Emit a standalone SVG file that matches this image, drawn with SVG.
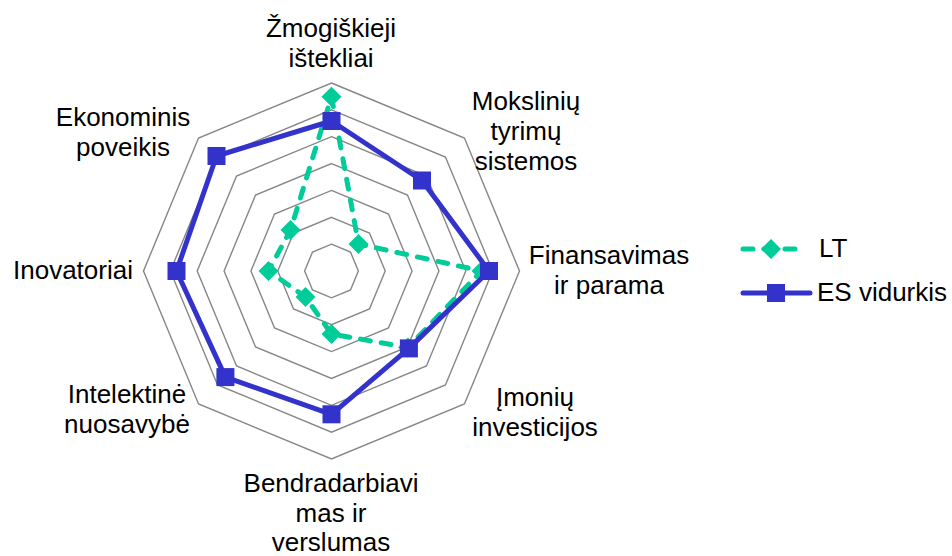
<svg xmlns="http://www.w3.org/2000/svg" width="952" height="556" viewBox="0 0 952 556">
<style>
.grid{fill:none;stroke:#868686;stroke-width:1.4}
.lbl{font-family:"Liberation Sans",Arial,sans-serif;font-size:26px;fill:#000;text-anchor:middle}
.leg{font-family:"Liberation Sans",Arial,sans-serif;font-size:26px;fill:#000}
.lt{fill:none;stroke:#00CC99;stroke-width:5;stroke-dasharray:10 11;stroke-linecap:round;stroke-linejoin:round}
.es{fill:none;stroke:#3333CC;stroke-width:5;stroke-linejoin:round}
.ltm{fill:#00CC99}
.esm{fill:#3333CC}
</style>
<defs>
<path id="dm" d="M0,-10 L10,0 L0,10 L-10,0Z"/>
<rect id="sq" x="-9" y="-9" width="18" height="18"/>
</defs>
<rect width="952" height="556" fill="#fff"/>
<g id="grid" transform="translate(331.5,271)">
<polygon class="grid" points="0,-26.86 18.99,-18.99 26.86,0 18.99,18.99 0,26.86 -18.99,18.99 -26.86,0 -18.99,-18.99"/>
<polygon class="grid" points="0,-53.71 37.98,-37.98 53.71,0 37.98,37.98 0,53.71 -37.98,37.98 -53.71,0 -37.98,-37.98"/>
<polygon class="grid" points="0,-80.57 56.97,-56.97 80.57,0 56.97,56.97 0,80.57 -56.97,56.97 -80.57,0 -56.97,-56.97"/>
<polygon class="grid" points="0,-107.43 75.96,-75.96 107.43,0 75.96,75.96 0,107.43 -75.96,75.96 -107.43,0 -75.96,-75.96"/>
<polygon class="grid" points="0,-134.29 94.96,-94.96 134.29,0 94.96,94.96 0,134.29 -94.96,94.96 -134.29,0 -94.96,-94.96"/>
<polygon class="grid" points="0,-161.14 113.94,-113.94 161.14,0 113.94,113.94 0,161.14 -113.94,113.94 -161.14,0 -113.94,-113.94"/>
<polygon class="grid" points="0,-188 132.94,-132.94 188,0 132.94,132.94 0,188 -132.94,132.94 -188,0 -132.94,-132.94"/>
</g>
<g id="connectors" transform="translate(331.5,271)">
<g id="series-LT">
<polygon class="lt" points="0,-174.3 27,-27 150,0 76.5,76.5 0,63 -26,26 -63,0 -41,-41"/>
<use href="#dm" class="ltm" x="0" y="-174.3"/>
<use href="#dm" class="ltm" x="27" y="-27"/>
<use href="#dm" class="ltm" x="150" y="0"/>
<use href="#dm" class="ltm" x="76.5" y="76.5"/>
<use href="#dm" class="ltm" x="0" y="63"/>
<use href="#dm" class="ltm" x="-26" y="26"/>
<use href="#dm" class="ltm" x="-63" y="0"/>
<use href="#dm" class="ltm" x="-41" y="-41"/>
</g>
<g id="series-ES">
<polygon class="es" points="0,-150 90.5,-90.5 157.5,0 77.4,77.4 0,143.3 -106.1,106.1 -155,0 -115,-115"/>
<use href="#sq" class="esm" x="0" y="-150"/>
<use href="#sq" class="esm" x="90.5" y="-90.5"/>
<use href="#sq" class="esm" x="157.5" y="0"/>
<use href="#sq" class="esm" x="77.4" y="77.4"/>
<use href="#sq" class="esm" x="0" y="143.3"/>
<use href="#sq" class="esm" x="-106.1" y="106.1"/>
<use href="#sq" class="esm" x="-155" y="0"/>
<use href="#sq" class="esm" x="-115" y="-115"/>
</g>
</g>
<g id="label-zmogiskieji"><text class="lbl" x="331" y="37">Žmogiškieji</text><text class="lbl" x="331" y="67">ištekliai</text></g>
<g id="label-mokslo"><text class="lbl" x="526" y="110">Mokslinių</text><text class="lbl" x="526" y="140">tyrimų</text><text class="lbl" x="526" y="170">sistemos</text></g>
<g id="label-finansavimas"><text class="lbl" x="609" y="264">Finansavimas</text><text class="lbl" x="609" y="294">ir parama</text></g>
<g id="label-imoniu"><text class="lbl" x="535" y="406">Įmonių</text><text class="lbl" x="535" y="436">investicijos</text></g>
<g id="label-bendradarbiavimas"><text class="lbl" x="331" y="492">Bendradarbiavi</text><text class="lbl" x="331" y="521.5">mas ir</text><text class="lbl" x="331" y="551">verslumas</text></g>
<g id="label-intelektine"><text class="lbl" x="127" y="403">Intelektinė</text><text class="lbl" x="127" y="433">nuosavybė</text></g>
<g id="label-inovatoriai"><text class="lbl" x="73" y="279">Inovatoriai</text></g>
<g id="label-ekonominis"><text class="lbl" x="123" y="126">Ekonominis</text><text class="lbl" x="123" y="156">poveikis</text></g>
<g id="legend">
<g id="legend-LT"><line class="lt" x1="743" y1="249" x2="800" y2="249"/><use href="#dm" class="ltm" x="771" y="249"/><text class="leg" x="819" y="257">LT</text></g>
<g id="legend-ES"><line class="es" x1="743" y1="293" x2="810" y2="293" stroke-linecap="round"/><use href="#sq" class="esm" x="776" y="293"/><text class="leg" x="817" y="301">ES vidurkis</text></g>
</g>
</svg>
